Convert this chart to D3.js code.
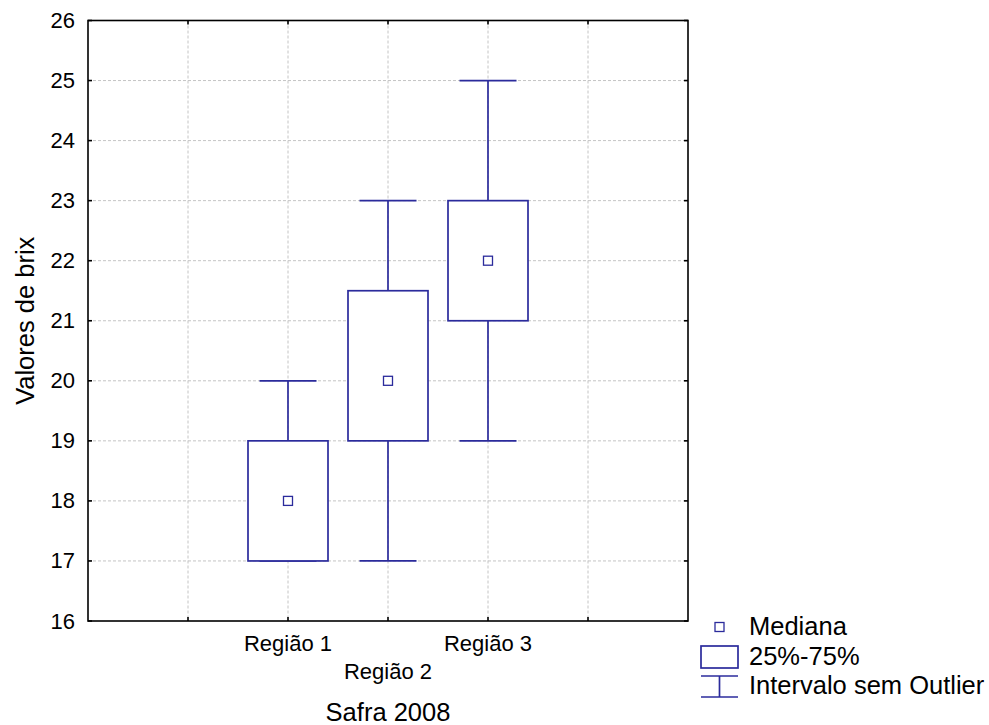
<!DOCTYPE html>
<html><head><meta charset="utf-8">
<script src="https://cdn.jsdelivr.net/npm/d3@7"></script>
<style>body{margin:0;background:#fff}svg{display:block}text{font-family:"Liberation Sans",Arial,sans-serif;fill:#000}</style>
</head><body><div id="chart"></div>
<script>
const categories = ["Região 1", "Região 2", "Região 3"];
const minVals = [17, 17, 19];
const q1Vals = [17, 19, 21];
const medians = [18, 20, 22];
const q3Vals = [19, 21.5, 23];
const maxVals = [20, 23, 25];
const yTicks = [16, 17, 18, 19, 20, 21, 22, 23, 24, 25, 26];
const legendLabels = ["Mediana", "25%-75%", "Intervalo sem Outlier"];
const xTitle = "Safra 2008";
const yTitle = "Valores de brix";

const W = 989, H = 725;
const m = {left: 88, top: 20.5, right: 301, bottom: 104};
const blue = "#2b2b9c";
const svg = d3.select("#chart").append("svg").attr("width", W).attr("height", H);

const x = d3.scaleLinear().domain([-2, 4]).range([m.left, W - m.right]);
const y = d3.scaleLinear().domain([16, 26]).range([H - m.bottom, m.top]);
const x0 = x.range()[0], x1 = x.range()[1], y0 = y.range()[0], y1 = y.range()[1];

// gridlines
const grid = svg.append("g").attr("stroke", "#c4c4c4").attr("stroke-width", 1).attr("stroke-dasharray", "3,2");
grid.selectAll(".h").data(yTicks.slice(1, -1)).join("line")
  .attr("x1", x0).attr("x2", x1).attr("y1", d => y(d)).attr("y2", d => y(d));
grid.selectAll(".v").data(d3.range(-1, 4)).join("line")
  .attr("x1", d => x(d)).attr("x2", d => x(d)).attr("y1", y1).attr("y2", y0);

// boxes
const g = svg.append("g").attr("stroke", blue).attr("fill", "none").attr("stroke-width", 1.7);
const bw = 80, cw = 57;
categories.forEach((c, i) => {
  const cx = x(i);
  g.append("line").attr("x1", cx).attr("x2", cx).attr("y1", y(q3Vals[i])).attr("y2", y(maxVals[i]));
  g.append("line").attr("x1", cx).attr("x2", cx).attr("y1", y(q1Vals[i])).attr("y2", y(minVals[i]));
  g.append("line").attr("x1", cx - cw/2).attr("x2", cx + cw/2).attr("y1", y(maxVals[i])).attr("y2", y(maxVals[i]));
  g.append("line").attr("x1", cx - cw/2).attr("x2", cx + cw/2).attr("y1", y(minVals[i])).attr("y2", y(minVals[i]));
  g.append("rect").attr("x", cx - bw/2).attr("width", bw)
    .attr("y", y(q3Vals[i])).attr("height", y(q1Vals[i]) - y(q3Vals[i])).attr("fill", "#fff");
  g.append("rect").attr("x", cx - 4.5).attr("y", y(medians[i]) - 4.5).attr("width", 9).attr("height", 9)
    .attr("stroke-width", 1.3).attr("fill", "#fff");
});

// frame and ticks
const fr = svg.append("g").attr("stroke", "#000").attr("stroke-width", 1.6).attr("fill", "none");
fr.append("rect").attr("x", x0).attr("y", y1).attr("width", x1 - x0).attr("height", y0 - y1);
yTicks.forEach(t => {
  fr.append("line").attr("x1", x0).attr("x2", x0 + 4).attr("y1", y(t)).attr("y2", y(t));
  fr.append("line").attr("x1", x1).attr("x2", x1 - 4).attr("y1", y(t)).attr("y2", y(t));
});
d3.range(-1, 4).forEach(t => {
  fr.append("line").attr("x1", x(t)).attr("x2", x(t)).attr("y1", y1).attr("y2", y1 + 4);
  fr.append("line").attr("x1", x(t)).attr("x2", x(t)).attr("y1", y0).attr("y2", y0 - 4);
});

// y tick labels
svg.append("g").selectAll("text").data(yTicks).join("text")
  .attr("x", x0 - 13).attr("y", d => y(d) + 7.5).attr("text-anchor", "end")
  .style("font-size", "22px").text(d => d);

// x tick labels (staggered)
svg.append("g").selectAll("text").data(categories).join("text")
  .attr("x", (d, i) => x(i)).attr("y", (d, i) => y0 + (i % 2 === 0 ? 30 : 58))
  .attr("text-anchor", "middle").style("font-size", "22px").text(d => d);

svg.append("text").attr("x", x(1)).attr("y", 721).attr("text-anchor", "middle")
  .style("font-size", "25.5px").text(xTitle);
svg.append("text").attr("transform", `translate(34,${(y0 + y1) / 2}) rotate(-90)`)
  .attr("text-anchor", "middle").style("font-size", "25.5px").text(yTitle);

// legend
const lg = svg.append("g");
const lx = 701, lw = 37, tx = 749;
lg.append("rect").attr("x", lx + lw/2 - 4.5).attr("y", 627 - 4.5).attr("width", 9).attr("height", 9)
  .attr("fill", "#fff").attr("stroke", blue).attr("stroke-width", 1.3);
lg.append("rect").attr("x", lx).attr("y", 646).attr("width", lw).attr("height", 22)
  .attr("fill", "none").attr("stroke", blue).attr("stroke-width", 1.7);
lg.append("line").attr("x1", lx).attr("x2", lx + lw).attr("y1", 676).attr("y2", 676).attr("stroke", blue).attr("stroke-width", 1.7);
lg.append("line").attr("x1", lx).attr("x2", lx + lw).attr("y1", 697).attr("y2", 697).attr("stroke", blue).attr("stroke-width", 1.7);
lg.append("line").attr("x1", lx + lw/2).attr("x2", lx + lw/2).attr("y1", 676).attr("y2", 697).attr("stroke", blue).attr("stroke-width", 1.7);
lg.selectAll("text").data(legendLabels).join("text")
  .attr("x", tx).attr("y", (d, i) => 635 + i * 29.5).style("font-size", "25.5px").text(d => d);
</script></body></html>
